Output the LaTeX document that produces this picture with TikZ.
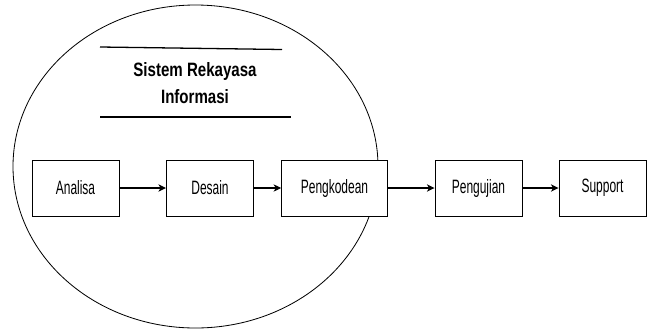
\documentclass[tikz,border=0pt]{standalone}
\usepackage{fontspec}
\setmainfont{Liberation Sans}
\newfontfamily\boxfont[FakeStretch=0.62]{Liberation Sans}
\newfontfamily\titlefont[FakeStretch=0.78]{Liberation Sans}
\usepackage{tikz}
\usetikzlibrary{arrows.meta, positioning}

\begin{document}
\begin{tikzpicture}[x=0.03cm, y=-0.03cm]
            \tikzstyle{block} = [rectangle, draw=black, fill=white, line width=0.8pt, minimum width=2.61cm, minimum height=1.68cm, inner sep=0pt, font={\boxfont\fontsize{16.5}{19}\selectfont}]
            \tikzstyle{arrow} = [line width=0.9pt,-{Stealth[length=2.3mm, width=2.2mm, inset=0.7mm]},black]

            \useasboundingbox (0,0) rectangle (648,329);

            % lingkaran sistem rekayasa informasi
            \draw[line width=0.7pt] (195.5,166.5) ellipse [x radius=182.5, y radius=161.5];
            \draw[line width=1.1pt] (100,47) -- (282,49.5);
            \draw[line width=0.9pt] (100,117) -- (291,117);
            \node[align=center, font={\titlefont\bfseries\fontsize{16.5}{22.7}\selectfont}] (sri) at (195,83) {Sistem Rekayasa\\Informasi};

            \node[block] (analisa) at (75.5,188) {Analisa};
            \node[block] (desain) at (210,188) {Desain};
            \node[block, minimum width=3.17cm] (kode) at (334.5,188) {Pengkodean};
            \node[block] (uji) at (478.5,188) {Pengujian};
            \node[block] (support) at (602.5,188) {Support};

            \draw[arrow] (analisa) -- (desain);
            \draw[arrow] (desain) -- (kode);
            \draw[arrow] (kode) -- (uji);
            \draw[arrow] (uji) -- (support);
        \end{tikzpicture}
\end{document}
